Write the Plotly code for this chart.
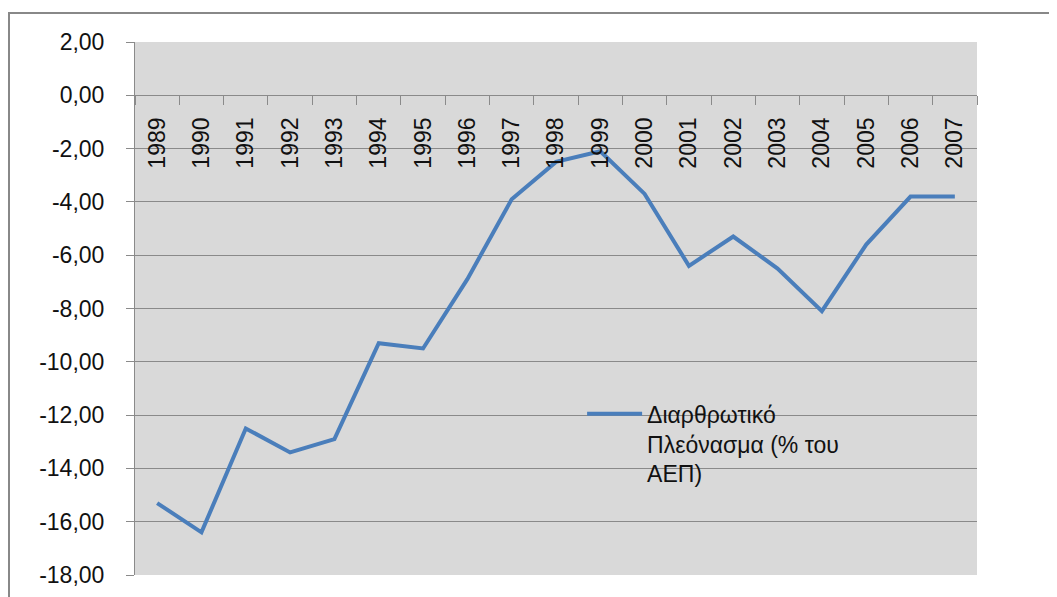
import plotly.graph_objects as go

years = [str(y) for y in range(1989, 2008)]
surplus = [-15.3, -16.4, -12.5, -13.4, -12.9, -9.3, -9.5, -6.9, -3.9, -2.5,
           -2.1, -3.7, -6.4, -5.3, -6.5, -8.1, -5.6, -3.8, -3.8]
series_name = "Διαρθρωτικό<br>Πλεόνασμα (% του<br>ΑΕΠ)"
y_tickvals = [2, 0, -2, -4, -6, -8, -10, -12, -14, -16, -18]
y_ticktext = ["2,00", "0,00", "-2,00", "-4,00", "-6,00", "-8,00", "-10,00",
              "-12,00", "-14,00", "-16,00", "-18,00"]

FONT = "Liberation Sans"
GRID = "#8a8a8a"
TXT = "#111111"

fig = go.Figure()
fig.add_trace(go.Scatter(
    x=years, y=surplus, mode="lines", name=series_name,
    line=dict(color="#4a7ebb", width=4), showlegend=True,
))

fig.update_layout(
    width=1049, height=589,
    margin=dict(l=127, r=80, t=34, b=22),
    paper_bgcolor="white", plot_bgcolor="#d9d9d9",
    font=dict(family=FONT, size=23, color=TXT),
    showlegend=True,
    legend=dict(x=0.531, y=0.343, xanchor="left", yanchor="top",
                bgcolor="rgba(0,0,0,0)", valign="top",
                font=dict(family=FONT, size=23, color=TXT),
                itemwidth=55),
    xaxis=dict(
        type="category", anchor="free", position=(0 - (-18)) / 20,
        tickson="boundaries", ticks="outside", ticklen=9, tickcolor=GRID,
        tickangle=-90, showline=True, linecolor=GRID, linewidth=1,
        showgrid=False, ticklabelstandoff=12, range=[-0.5, 18.5],
        automargin=False,
        tickfont=dict(family=FONT, size=23, color=TXT),
    ),
    yaxis=dict(
        range=[-18, 2], tickvals=y_tickvals, ticktext=y_ticktext,
        showgrid=True, gridcolor=GRID, gridwidth=1,
        showline=True, linecolor=GRID, linewidth=1,
        ticks="outside", ticklen=8, tickcolor=GRID,
        ticklabelstandoff=17, zeroline=False, automargin=False,
        tickfont=dict(family=FONT, size=23, color=TXT),
    ),
    shapes=[dict(type="rect", xref="paper", yref="paper",
                 x0=(9 - 135) / 842, x1=1.2, y0=-0.2, y1=1 + (42 - 13) / 533,
                 line=dict(color="#888888", width=2), fillcolor="rgba(0,0,0,0)",
                 layer="above")],
)

fig.write_html("out.html")
